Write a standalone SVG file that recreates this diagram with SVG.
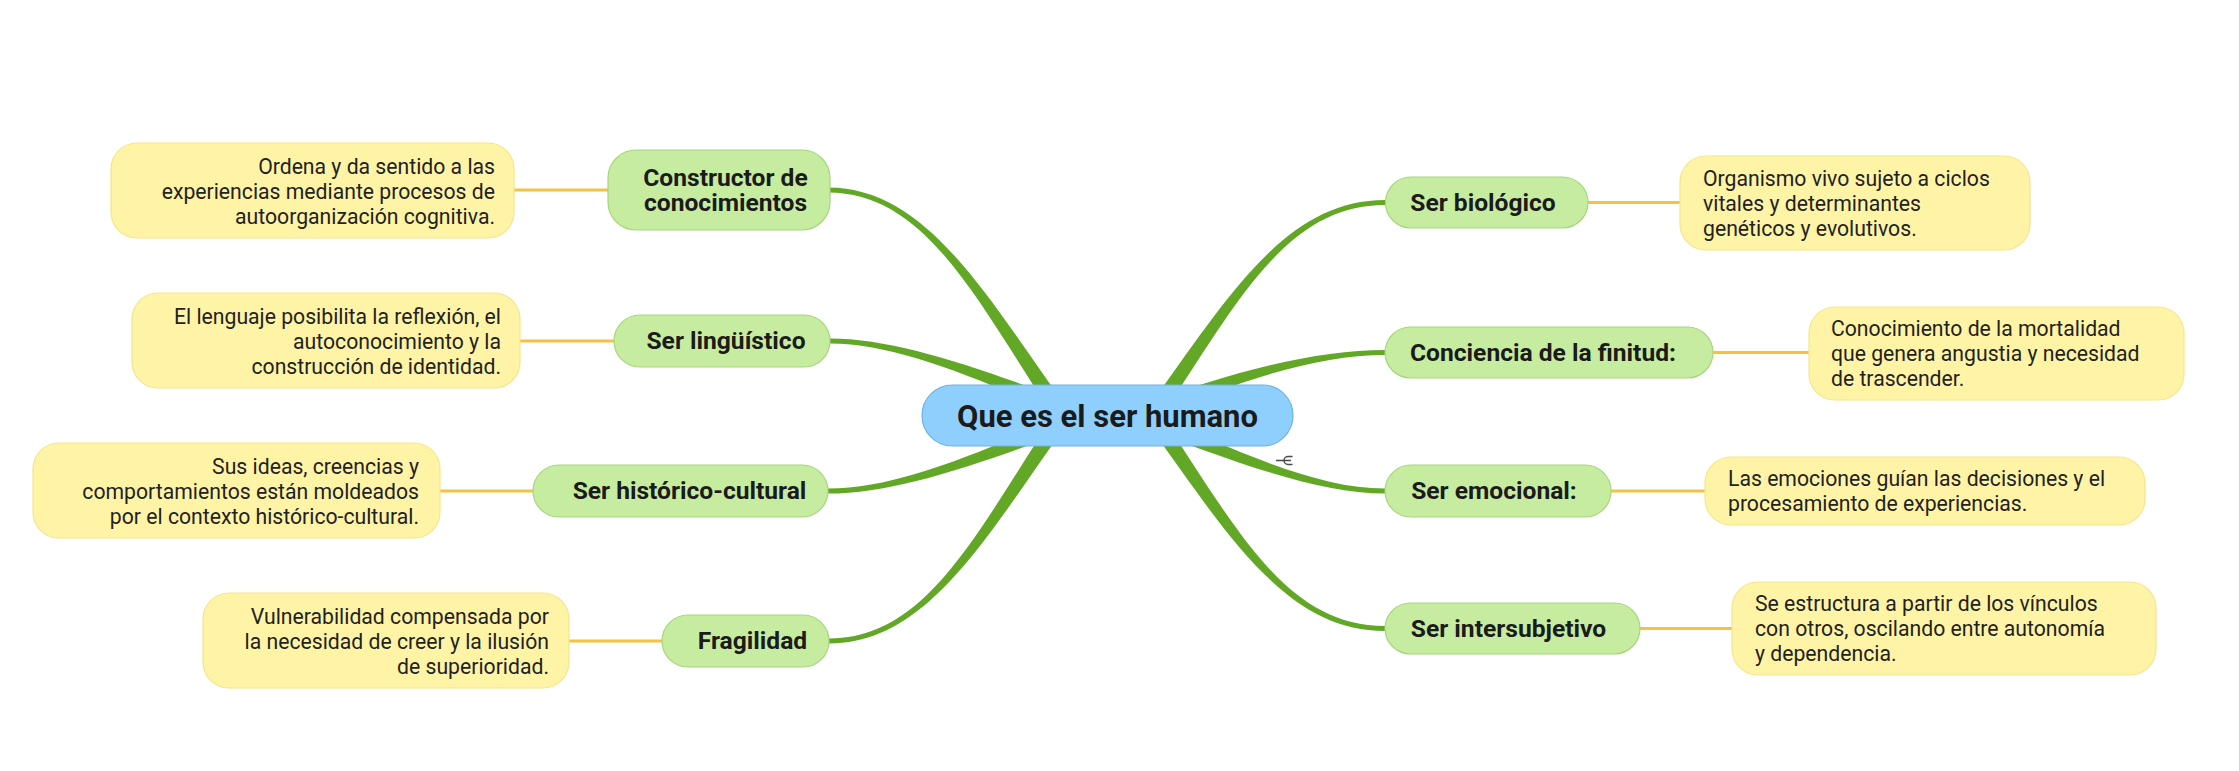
<svg xmlns="http://www.w3.org/2000/svg" width="2239" height="771" viewBox="0 0 2239 771">
<style>
.br{fill:#62a826;stroke:none}
.yl{stroke:#f2c243;stroke-width:3;fill:none}
.g{fill:#c6eca0;stroke:#a6d67c;stroke-width:1.2}
.y{fill:#fff4a6;stroke:#f6e58c;stroke-width:1.2}
.c{fill:#8ecffd;stroke:#6fb2e4;stroke-width:1.2}
.gt{font-family:Roboto,"Liberation Sans",sans-serif;font-weight:700;font-size:24.6px;fill:#1b1b1b;text-anchor:middle}
.ct{font-family:Roboto,"Liberation Sans",sans-serif;font-weight:700;font-size:31px;fill:#1b1b1b;text-anchor:middle}
.yt{font-family:Roboto,"Liberation Sans",sans-serif;font-size:21.2px;fill:#222}
.r{text-anchor:end}
</style>
<rect width="2239" height="771" fill="#ffffff"/>
<g id="connectors">
<path class="br" d="M828 192.5 C928 192.5 978.5 304.2 1056.4 420.6 L1069.6 411.4 C987.5 297.9 928 187.5 828 187.5 Z"/>
<path class="br" d="M830 343.5 C900 343.5 982 381.1 1083.1 423.4 L1088.9 408.6 C986 370.9 900 338.5 830 338.5 Z"/>
<path class="br" d="M828 493.5 C900 493.5 986 461.1 1088.9 423.4 L1083.1 408.6 C982 450.9 900 488.5 828 488.5 Z"/>
<path class="br" d="M829 643.5 C929 643.5 987.5 534.2 1069.6 420.6 L1056.4 411.4 C978.5 527.9 929 638.5 829 638.5 Z"/>
<path class="br" d="M1385 200 C1285 200 1227.5 297.9 1145.4 411.4 L1158.6 420.6 C1236.5 304.2 1285 205 1385 205 Z"/>
<path class="br" d="M1385 350 C1315 350 1234 370.9 1131.1 408.6 L1136.9 423.4 C1238 381.1 1315 355 1385 355 Z"/>
<path class="br" d="M1385 488.5 C1315 488.5 1238 450.9 1136.9 408.6 L1131.1 423.4 C1234 461.1 1315 493.5 1385 493.5 Z"/>
<path class="br" d="M1385 626 C1285 626 1236.5 527.9 1158.6 411.4 L1145.4 420.6 C1227.5 534.2 1285 631 1385 631 Z"/>
<line class="yl" x1="514" y1="190" x2="608" y2="190"/>
<line class="yl" x1="520" y1="341" x2="614" y2="341"/>
<line class="yl" x1="440" y1="491" x2="533" y2="491"/>
<line class="yl" x1="569" y1="641" x2="662" y2="641"/>
<line class="yl" x1="1588" y1="202.5" x2="1680" y2="202.5"/>
<line class="yl" x1="1713" y1="352.5" x2="1809" y2="352.5"/>
<line class="yl" x1="1611" y1="491" x2="1705" y2="491"/>
<line class="yl" x1="1640" y1="628.5" x2="1732" y2="628.5"/>
</g>
<g id="root">
<rect class="c" x="922" y="385" width="371" height="61" rx="30.5"/>
<text class="ct" x="1107.5" y="426.5">Que es el ser humano</text>
<path d="M1276 460.5 H1291 M1292.5 456.5 H1288 A4 4 0 0 0 1288 464.5 H1292.5" fill="none" stroke="#4a4a4a" stroke-width="1.5"/>
</g>
<g id="n-constructor">
<rect class="g" x="608" y="150" width="222" height="80" rx="28"/>
<text class="gt" x="725.5" y="186">Constructor de</text>
<text class="gt" x="725.5" y="211">conocimientos</text>
</g>
<g id="n-linguistico">
<rect class="g" x="614" y="315" width="216" height="52" rx="26"/>
<text class="gt" x="726" y="349">Ser lingüístico</text>
</g>
<g id="n-historico">
<rect class="g" x="533" y="465" width="295" height="52" rx="26"/>
<text class="gt" x="689.5" y="499">Ser histórico-cultural</text>
</g>
<g id="n-fragilidad">
<rect class="g" x="662" y="615" width="167" height="52" rx="26"/>
<text class="gt" x="752.5" y="649">Fragilidad</text>
</g>
<g id="n-biologico">
<rect class="g" x="1385.5" y="177" width="202.5" height="51" rx="25.5"/>
<text class="gt" x="1483" y="210.5">Ser biológico</text>
</g>
<g id="n-finitud">
<rect class="g" x="1385" y="327" width="328" height="51" rx="25.5"/>
<text class="gt" x="1543" y="360.5">Conciencia de la finitud:</text>
</g>
<g id="n-emocional">
<rect class="g" x="1385" y="465" width="226" height="52" rx="26"/>
<text class="gt" x="1494" y="499">Ser emocional:</text>
</g>
<g id="n-intersubjetivo">
<rect class="g" x="1385" y="603" width="255" height="51" rx="25.5"/>
<text class="gt" x="1508.5" y="636.5">Ser intersubjetivo</text>
</g>
<g id="d-constructor">
<rect class="y" x="111" y="143" width="403" height="95" rx="26"/>
<text class="yt r" x="495" y="173.5">Ordena y da sentido a las</text>
<text class="yt r" x="495" y="198.5">experiencias mediante procesos de</text>
<text class="yt r" x="495" y="223.5">autoorganización cognitiva.</text>
</g>
<g id="d-linguistico">
<rect class="y" x="132" y="293" width="388" height="95" rx="26"/>
<text class="yt r" x="501" y="323.5">El lenguaje posibilita la reflexión, el</text>
<text class="yt r" x="501" y="348.5">autoconocimiento y la</text>
<text class="yt r" x="501" y="373.5">construcción de identidad.</text>
</g>
<g id="d-historico">
<rect class="y" x="33" y="443" width="407" height="95" rx="26"/>
<text class="yt r" x="419" y="473.5">Sus ideas, creencias y</text>
<text class="yt r" x="419" y="498.5">comportamientos están moldeados</text>
<text class="yt r" x="419" y="523.5">por el contexto histórico-cultural.</text>
</g>
<g id="d-fragilidad">
<rect class="y" x="203" y="593" width="366" height="95" rx="26"/>
<text class="yt r" x="549" y="623.5">Vulnerabilidad compensada por</text>
<text class="yt r" x="549" y="648.5">la necesidad de creer y la ilusión</text>
<text class="yt r" x="549" y="673.5">de superioridad.</text>
</g>
<g id="d-biologico">
<rect class="y" x="1680" y="156" width="350" height="94" rx="26"/>
<text class="yt" x="1703" y="186">Organismo vivo sujeto a ciclos</text>
<text class="yt" x="1703" y="211">vitales y determinantes</text>
<text class="yt" x="1703" y="236">genéticos y evolutivos.</text>
</g>
<g id="d-finitud">
<rect class="y" x="1809" y="307" width="375" height="93" rx="26"/>
<text class="yt" x="1831" y="336">Conocimiento de la mortalidad</text>
<text class="yt" x="1831" y="361">que genera angustia y necesidad</text>
<text class="yt" x="1831" y="386">de trascender.</text>
</g>
<g id="d-emocional">
<rect class="y" x="1705" y="457" width="440" height="68" rx="26"/>
<text class="yt" x="1728" y="486">Las emociones guían las decisiones y el</text>
<text class="yt" x="1728" y="511">procesamiento de experiencias.</text>
</g>
<g id="d-intersubjetivo">
<rect class="y" x="1732" y="582" width="424" height="93" rx="26"/>
<text class="yt" x="1755" y="611">Se estructura a partir de los vínculos</text>
<text class="yt" x="1755" y="636">con otros, oscilando entre autonomía</text>
<text class="yt" x="1755" y="661">y dependencia.</text>
</g>
</svg>
